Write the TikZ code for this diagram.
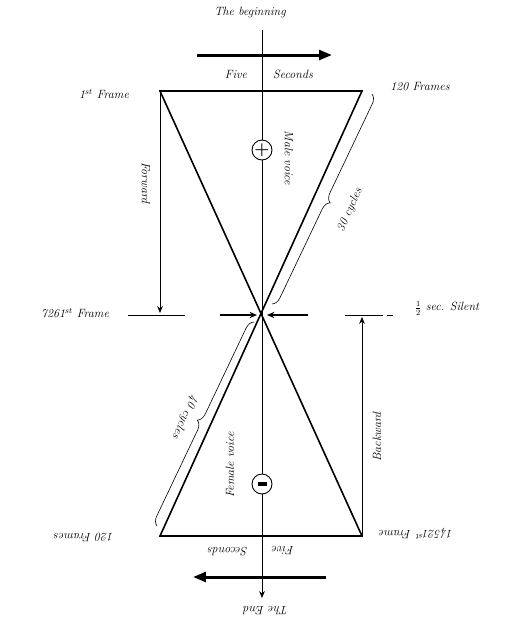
\documentclass[tikz,border=0pt]{standalone}
\usepackage{tikz}
\usetikzlibrary{arrows.meta,decorations.pathreplacing}
\tikzset{
  edge/.style={line width=1.6pt, line join=miter},
  axis/.style={line width=0.8pt},
  bigarrow/.style={-{Triangle[length=4.5mm,width=3.4mm]}, line width=3pt},
  arrow/.style={-{Stealth[length=2.6mm,width=2.2mm]}, line width=1.3pt},
  thinarrow/.style={-{Stealth[length=2.4mm,width=2mm]}, line width=0.8pt},
  hand/.style={font=\itshape\fontsize{12}{14}\selectfont, inner sep=1pt},
  sign/.style={circle, draw, line width=0.9pt, fill=white, minimum size=20pt, inner sep=0pt},
  cbrace/.style={decorate, decoration={brace, amplitude=9pt}, line width=0.6pt},
}

\begin{document}
\begin{tikzpicture}[x=1pt, y=-1pt]
  \useasboundingbox (0,0) rectangle (517,625);
  % corners of the two triangles
  \coordinate (tl) at (160,91);
  \coordinate (tr) at (362,91);
  \coordinate (bl) at (160,536);
  \coordinate (br) at (362,536);
  \coordinate (apex) at (262,315);
  \coordinate (axtop) at (262,30);
  \coordinate (axbot) at (262,598);
  % time axis
  \draw[thinarrow] (axtop) -- (axbot);
  \draw[edge] (tl) -- (tr) -- (bl) -- (br) -- cycle;
  \node[sign] (plus) at (262,150) {\bfseries\LARGE +};
  \node[sign] (minus) at (262,484) {\rule{9pt}{3.5pt}};
  % direction arrows
  \coordinate (ta1) at (197,55);
  \coordinate (ta2) at (332,55);
  \coordinate (ba1) at (326,577);
  \coordinate (ba2) at (193,577);
  \draw[bigarrow] (ta1) -- (ta2);
  \draw[bigarrow] (ba1) -- (ba2);
  % middle marks
  \coordinate (ml1) at (128,315);
  \coordinate (ml2) at (185,315);
  \coordinate (mr1) at (345,315);
  \coordinate (mr2) at (393,315);
  \coordinate (mla) at (220,315);
  \coordinate (mra) at (308,315);
  \draw[axis] (ml1) -- (ml2);
  \draw[axis, dash pattern=on 38pt off 4pt on 6pt] (mr1) -- (mr2);
  \draw[arrow, shorten >=5pt] (mla) -- (apex);
  \draw[arrow, shorten >=5pt] (mra) -- (apex);
  \coordinate (fwdend) at (160,313);
  \coordinate (backend) at (362,317);
  \draw[thinarrow] (tl) -- (fwdend);
  \draw[thinarrow] (br) -- (backend);
  % braces
  \coordinate (b30a) at (372,94);
  \coordinate (b30b) at (272,304);
  \coordinate (b40a) at (157,526);
  \coordinate (b40b) at (254,322);
  \draw[cbrace] (b30a) -- (b30b);
  \draw[cbrace] (b40a) -- (b40b);
  % labels
  \node[hand] (begin) at (250,13) {The beginning};
  \node[hand] (fiveT) at (236,74) {Five};
  \node[hand] (secT) at (293,74) {Seconds};
  \node[hand] (firstF) at (104,94) {1$^{st}$ Frame};
  \node[hand] (framesT) at (420,87) {120 Frames};
  \node[hand, rotate=-90] (male) at (289,158) {Male voice};
  \node[hand, rotate=-90] (fwd) at (146,183) {Forward};
  \node[hand, rotate=66] (cyc30) at (350,210) {30 cycles};
  \node[hand] (midF) at (75,313) {7261$^{st}$ Frame};
  \node[hand] (silent) at (447,308) {$\frac{1}{2}$ sec. Silent};
  \node[hand, rotate=-115] (cyc40) at (185,417) {40 cycles};
  \node[hand, rotate=90] (back) at (377,437) {Backward};
  \node[hand, rotate=90] (female) at (230,465) {Female voice};
  \node[hand, rotate=180] (framesB) at (84,537) {120 Frames};
  \node[hand, rotate=180] (lastF) at (416,534) {14521$^{st}$ Frame};
  \node[hand, rotate=180] (secB) at (228,552) {Seconds};
  \node[hand, rotate=180] (fiveB) at (283,551) {Five};
  \node[hand, rotate=180] (theend) at (266,611) {The End};
\end{tikzpicture}
\end{document}
